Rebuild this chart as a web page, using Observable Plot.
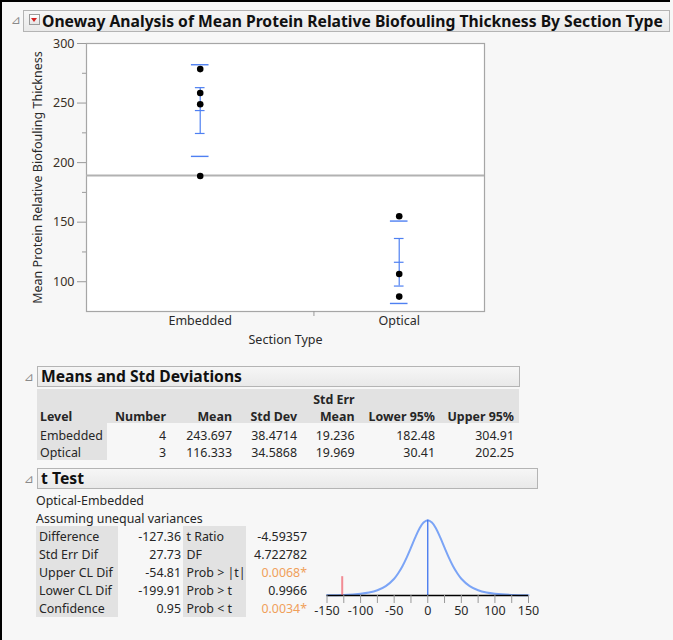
<!DOCTYPE html>
<html>
<head>
<meta charset="utf-8">
<script src="https://cdn.jsdelivr.net/npm/d3@7"></script>
<script src="https://cdn.jsdelivr.net/npm/@observablehq/plot@0.6"></script>
<style>
html,body{margin:0;padding:0;background:#f7f7f7;}
body{width:673px;height:640px;position:relative;overflow:hidden;font-family:"Noto Sans","Open Sans",sans-serif;color:#222;}
.abs{position:absolute;white-space:nowrap;}
.hbox{position:absolute;border:1px solid #b4b4b4;background:linear-gradient(#f6f6f6,#e9e9e9);box-sizing:border-box;}
.gray{position:absolute;background:#e2e2e2;}
.tri{position:absolute;color:#8a8a8a;font-size:12px;line-height:12px;font-family:"DejaVu Sans",sans-serif;}
</style>
</head>
<body>
<script>
// ---------- data ----------
const title = "Oneway Analysis of Mean Protein Relative Biofouling Thickness By Section Type";
const yLabel = "Mean Protein Relative Biofouling Thickness";
const xLabel = "Section Type";
const groups = ["Embedded", "Optical"];
const counts = [4, 3];
const embeddedValues = [278.5, 258.5, 249.0, 188.8];
const opticalValues = [155.0, 106.5, 87.5];
const groupMeans = [243.697, 116.333];
const groupStdDevs = [38.4714, 34.5868];
const groupStdErrs = [19.236, 19.969];
const grandMean = 189.11;
const yTicks = [100, 150, 200, 250, 300];
const yMinorTicks = [125, 175, 225, 275];

const meansHeader1 = ["", "", "", "", "Std Err", "", ""];
const meansHeader2 = ["Level", "Number", "Mean", "Std Dev", "Mean", "Lower 95%", "Upper 95%"];
const meansNumber = ["4", "3"];
const meansMean = ["243.697", "116.333"];
const meansStdDev = ["38.4714", "34.5868"];
const meansStdErr = ["19.236", "19.969"];
const meansLower = ["182.48", "30.41"];
const meansUpper = ["304.91", "202.25"];

const tTestLabels1 = ["Difference", "Std Err Dif", "Upper CL Dif", "Lower CL Dif", "Confidence"];
const tTestValues1 = ["-127.36", "27.73", "-54.81", "-199.91", "0.95"];
const tTestLabels2 = ["t Ratio", "DF", "Prob > |t|", "Prob > t", "Prob < t"];
const tTestValues2 = ["-4.59357", "4.722782", "0.0068*", "0.9966", "0.0034*"];
const tTestSignificant = [false, false, true, false, true];
const difference = -127.36;

// t density (relative height)
const tCurveX = [-150, -125, -100, -87.5, -75, -62.5, -50, -43.75, -37.5, -31.25, -25, -18.75, -12.5, -6.25, 0, 6.25, 12.5, 18.75, 25, 31.25, 37.5, 43.75, 50, 62.5, 75, 87.5, 100, 125, 150];
const tCurveY = [0.004, 0.008, 0.023, 0.039, 0.069, 0.124, 0.223, 0.298, 0.392, 0.506, 0.635, 0.768, 0.886, 0.970, 1.0, 0.970, 0.886, 0.768, 0.635, 0.506, 0.392, 0.298, 0.223, 0.124, 0.069, 0.039, 0.023, 0.008, 0.004];
const tAxisTicks = [-150, -100, -50, 0, 50, 100, 150];
const tAxisMinorTicks = [-125, -75, -25, 25, 75, 125];

// ---------- helpers ----------
const body = document.body;
const FS = 12.4;
function el(cls, style, text) {
  const d = document.createElement("div");
  d.className = cls;
  Object.assign(d.style, style);
  if (text != null) d.textContent = text;
  body.appendChild(d);
  return d;
}
function txt(x, yc, s, o = {}) {
  const fs = o.size || FS;
  const st = {top: (yc + 1 - fs * 0.68) + "px", fontSize: fs + "px", lineHeight: (fs * 1.36) + "px",
    fontWeight: o.bold ? "700" : "400", color: o.color || "#262626"};
  if (o.right) st.right = (673 - x) + "px"; else st.left = x + "px";
  return el("abs", st, s);
}
function fitWidth(node, target) {
  const w = node.getBoundingClientRect().width;
  const fs = parseFloat(node.style.fontSize);
  node.style.fontSize = (fs * target / w) + "px";
}

// ---------- frame & headers ----------
el("abs", {left: "0px", top: "0px", width: "670px", height: "2px", background: "#000"});
el("abs", {left: "0px", top: "0px", width: "2px", height: "640px", background: "#000"});

el("hbox", {left: "23px", top: "10px", width: "647px", height: "22px"});
el("tri", {left: "11px", top: "14px"}, "\u22BF");
const btn = el("abs", {left: "29px", top: "14px", width: "11px", height: "11px", border: "1px solid #9a9a9a",
  background: "linear-gradient(#ffffff,#e4e4e4)", boxSizing: "border-box"});
const arrow = document.createElement("div");
Object.assign(arrow.style, {position: "absolute", left: "1px", top: "3px", width: "0", height: "0",
  borderLeft: "3.5px solid transparent", borderRight: "3.5px solid transparent", borderTop: "4px solid #d42020"});
btn.appendChild(arrow);
const titleNode = txt(42, 20.5, title, {size: 16, bold: true, color: "#111"});
fitWidth(titleNode, 621);

// ---------- main chart ----------
const positions = [];
const boundaries = [];
let acc = 0;
counts.forEach((n, i) => { positions.push(acc + n / 2); acc += n; if (i < counts.length - 1) boundaries.push(acc); });
const total = acc;
const points = [
  ...embeddedValues.map(v => ({g: 0, v})),
  ...opticalValues.map(v => ({g: 1, v}))
];
const stats = groups.map((g, i) => ({x: positions[i], mean: groupMeans[i], sd: groupStdDevs[i], se: groupStdErrs[i]}));
const blue = "#4f80f2";
const wide = 0.155, narrow = 0.085;

const main = Plot.plot({
  width: 490, height: 330,
  marginLeft: 86, marginRight: 6, marginTop: 13, marginBottom: 49,
  style: {background: "transparent", fontFamily: "Noto Sans, Open Sans, sans-serif", fontSize: "12px", color: "#2a2a2a", overflow: "visible"},
  x: {domain: [0, total], label: null},
  y: {domain: [75, 300], label: null},
  marks: [
    Plot.frame({fill: "white", stroke: "#a6a6a6", strokeWidth: 1.2}),
    Plot.ruleY([grandMean], {stroke: "#b2b2b2", strokeWidth: 2}),
    Plot.axisY(yTicks, {tickSize: 9, tickPadding: 3, stroke: "#9a9a9a", fill: "#3a3126", label: null, fontSize: 12.5}),
    Plot.axisY(yMinorTicks, {tickSize: 4, tickFormat: () => "", stroke: "#9a9a9a", label: null}),
    Plot.axisX(positions, {tickSize: 0, tickPadding: 5, tickFormat: d => groups[positions.indexOf(d)], fill: "#2a2a2a", label: null, fontSize: 12.5}),
    Plot.axisX(boundaries, {tickSize: 5, tickFormat: () => "", stroke: "#9a9a9a", label: null}),
    Plot.text([xLabel], {frameAnchor: "bottom", dy: 32, fontSize: 12.5, fill: "#2a2a2a"}),
    Plot.text([yLabel], {frameAnchor: "left", textAnchor: "middle", rotate: -90, dx: -48.5, fontSize: 12.5, fill: "#2a2a2a"}),
    // std dev lines
    Plot.ruleY(stats, {y: d => d.mean + d.sd, x1: d => d.x - wide, x2: d => d.x + wide, stroke: blue, strokeWidth: 1.4}),
    Plot.ruleY(stats, {y: d => d.mean - d.sd, x1: d => d.x - wide, x2: d => d.x + wide, stroke: blue, strokeWidth: 1.4}),
    // mean error bars
    Plot.ruleX(stats, {x: "x", y1: d => d.mean - d.se, y2: d => d.mean + d.se, stroke: blue, strokeWidth: 1.2}),
    Plot.ruleY(stats, {y: d => d.mean + d.se, x1: d => d.x - narrow, x2: d => d.x + narrow, stroke: blue, strokeWidth: 1.2}),
    Plot.ruleY(stats, {y: d => d.mean - d.se, x1: d => d.x - narrow, x2: d => d.x + narrow, stroke: blue, strokeWidth: 1.2}),
    Plot.ruleY(stats, {y: "mean", x1: d => d.x - narrow, x2: d => d.x + narrow, stroke: blue, strokeWidth: 1.2}),
    Plot.dot(points, {x: d => positions[d.g], y: "v", r: 3.3, fill: "#000", stroke: "none"})
  ]
});
Object.assign(main.style, {position: "absolute", left: "0px", top: "30px"});
body.appendChild(main);

// ---------- Means and Std Deviations ----------
el("tri", {left: "24px", top: "371px"}, "\u22BF");
el("hbox", {left: "37px", top: "366px", width: "483px", height: "21px"});
const mh = txt(41, 376, "Means and Std Deviations", {size: 15.5, bold: true, color: "#111"});
fitWidth(mh, 201);
el("gray", {left: "37px", top: "389px", width: "482px", height: "34px"});
el("gray", {left: "37px", top: "423px", width: "70px", height: "37px"});
const colRight = [null, 166, 232, 297, 354.5, 435, 514];
meansHeader1.forEach((h, i) => { if (h) txt(colRight[i], 399, h, {bold: true, right: true}); });
meansHeader2.forEach((h, i) => {
  if (i === 0) txt(40, 416.5, h, {bold: true}); else txt(colRight[i], 416.5, h, {bold: true, right: true});
});
const meansCols = [meansNumber, meansMean, meansStdDev, meansStdErr, meansLower, meansUpper];
const rowY = [435.3, 452.7];
groups.forEach((g, r) => {
  txt(40, rowY[r], g);
  meansCols.forEach((col, c) => txt(colRight[c + 1], rowY[r], col[r], {right: true}));
});

// ---------- t Test ----------
el("tri", {left: "24px", top: "473px"}, "\u22BF");
el("hbox", {left: "37px", top: "468px", width: "501px", height: "21px"});
const th = txt(41, 477.5, "t Test", {size: 15.5, bold: true, color: "#111"});
fitWidth(th, 43);
txt(36, 500, "Optical-Embedded");
txt(36, 518.3, "Assuming unequal variances");
el("gray", {left: "36px", top: "526px", width: "82px", height: "91px"});
el("gray", {left: "183px", top: "526px", width: "63px", height: "91px"});
const tRowY = [536.7, 554.5, 572.4, 590.3, 608.3];
tTestLabels1.forEach((l, i) => {
  txt(39, tRowY[i], l);
  txt(181, tRowY[i], tTestValues1[i], {right: true});
  txt(186.5, tRowY[i], tTestLabels2[i]);
  txt(307, tRowY[i], tTestValues2[i], {right: true, color: tTestSignificant[i] ? "#f0a05a" : "#262626"});
});

// ---------- t distribution chart ----------
const curve = tCurveX.map((x, i) => ({x, y: tCurveY[i]}));
const tplot = Plot.plot({
  width: 250, height: 125,
  marginLeft: 26.5, marginRight: 22, marginTop: 14.7, marginBottom: 35,
  style: {background: "transparent", fontFamily: "Noto Sans, Open Sans, sans-serif", fontSize: "12.5px", color: "#2a2a2a", overflow: "visible"},
  x: {domain: [-150, 150], label: null},
  y: {domain: [0, 1], label: null, axis: null},
  marks: [
    Plot.line(curve, {x: "x", y: "y", curve: "catmull-rom", stroke: "#7ba4f6", strokeWidth: 2}),
    Plot.ruleX([0], {y1: 0, y2: 1, stroke: "#3f74ee", strokeWidth: 1.3}),
    Plot.ruleX([difference], {y1: 0, y2: 0.25, stroke: "#f28b93", strokeWidth: 2}),
    Plot.ruleY([0], {stroke: "#000", strokeWidth: 1.6}),
    Plot.axisX(tAxisTicks, {tickSize: 8, tickPadding: 3, tickFormat: d => String(d), stroke: "#999", fill: "#2a2a2a", label: null, fontSize: 12.5}),
    Plot.axisX(tAxisMinorTicks, {tickSize: 8, tickFormat: () => "", stroke: "#999", label: null})
  ]
});
Object.assign(tplot.style, {position: "absolute", left: "300px", top: "505px"});
body.appendChild(tplot);
</script>
</body>
</html>
